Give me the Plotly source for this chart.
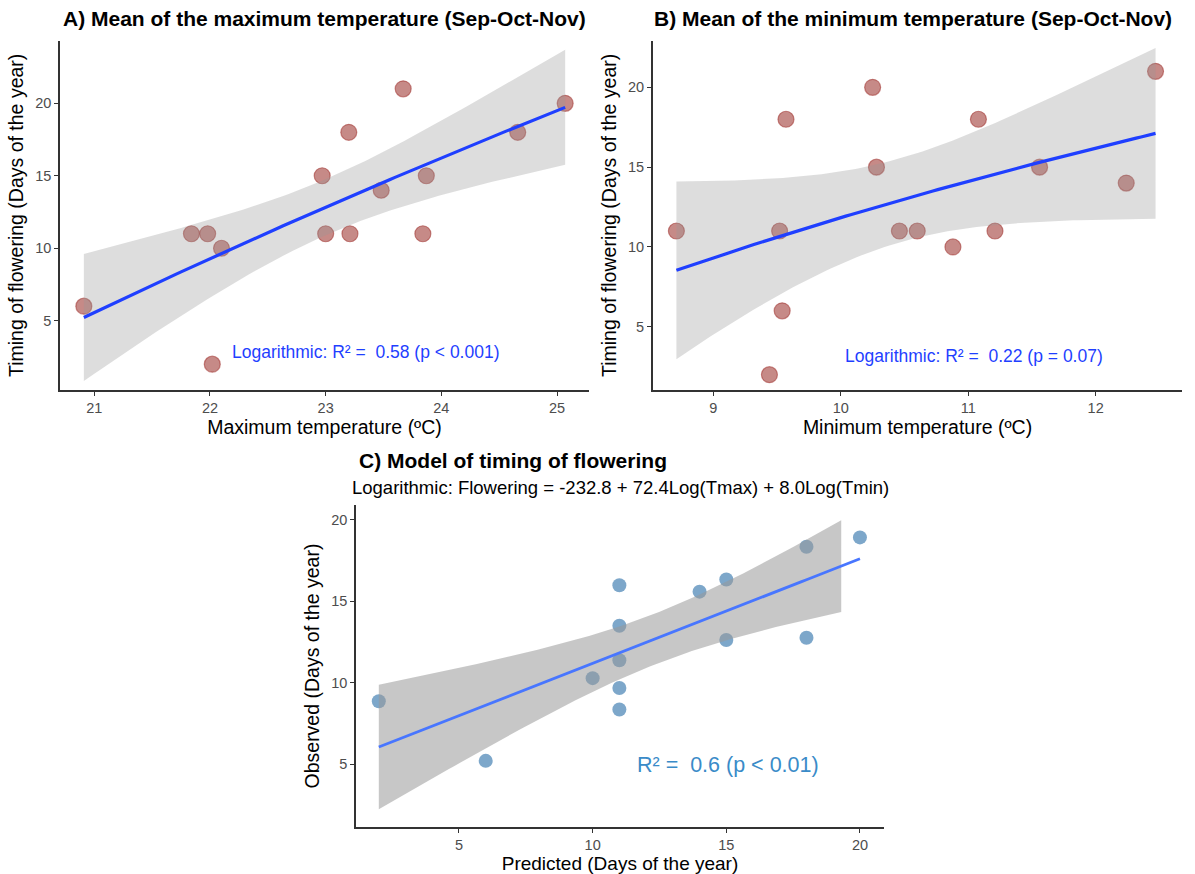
import numpy as np
import plotly.graph_objects as go

# ---------------- data ----------------
tmax = [20.91, 21.84, 21.98, 22.10, 22.02, 22.97, 23.00, 23.20, 23.21, 23.48, 23.67, 23.84, 23.87, 24.66, 25.07]
flow_a = [6, 11, 11, 10, 2, 15, 11, 18, 11, 14, 21, 11, 15, 18, 20]

tmin = [8.71, 9.44, 9.52, 9.54, 9.57, 10.25, 10.28, 10.46, 10.60, 10.88, 11.08, 11.21, 11.56, 12.24, 12.47]
flow_b = [11, 2, 11, 6, 18, 20, 15, 11, 11, 10, 18, 11, 15, 14, 21]

predicted = [2, 6, 10, 11, 11, 11, 11, 11, 14, 15, 15, 18, 18, 20]
observed = [8.86, 5.2, 10.28, 15.98, 13.5, 11.38, 9.67, 8.35, 15.59, 16.34, 12.62, 18.35, 12.76, 18.92]

t_crit = {13: 2.160, 12: 2.179}
ribbon_c_end = 19.3

FONT = "Liberation Sans, Arial, sans-serif"


def fit(x, y, log=False, xs_end=None):
    x = np.asarray(x, float)
    y = np.asarray(y, float)
    u = np.log(x) if log else x
    n = len(x)
    b, a = np.polyfit(u, y, 1)
    res = y - (a + b * u)
    s = np.sqrt(np.sum(res ** 2) / (n - 2))
    suu = np.sum((u - u.mean()) ** 2)
    xs = np.linspace(x.min(), x.max(), 100)
    us = np.log(xs) if log else xs
    ys = a + b * us
    xr = np.linspace(x.min(), xs_end if xs_end else x.max(), 100)
    ur = np.log(xr) if log else xr
    yr = a + b * ur
    se = s * np.sqrt(1 / n + (ur - u.mean()) ** 2 / suu)
    t = t_crit[n - 2]
    return xs, ys, xr, yr - t * se, yr + t * se


fig = go.Figure()

panels = [
    (tmax, flow_a, True, None, "x", "y", "rgba(160,60,55,0.6)", "rgba(160,50,45,0.55)", 16,
     "rgba(153,153,153,0.33)", "#1f3fff", 3.2),
    (tmin, flow_b, True, None, "x2", "y2", "rgba(160,60,55,0.6)", "rgba(160,50,45,0.55)", 16,
     "rgba(153,153,153,0.33)", "#1f3fff", 3.2),
    (predicted, observed, False, ribbon_c_end, "x3", "y3", "rgba(70,130,180,0.7)", "rgba(70,130,180,0)", 14,
     "rgba(153,153,153,0.55)", "#4876ff", 2.8),
]

for xv, yv, lg, xend, xa, ya, pc, plc, ps, rc, lc, lw in panels:
    xs, ys, xr, lo, hi = fit(xv, yv, lg, xend)
    fig.add_trace(go.Scatter(x=xv, y=yv, mode="markers", xaxis=xa, yaxis=ya,
                             marker=dict(size=ps, color=pc, line=dict(color=plc, width=1.2)),
                             showlegend=False, hoverinfo="skip"))
    fig.add_trace(go.Scatter(x=np.concatenate([xr, xr[::-1]]), y=np.concatenate([hi, lo[::-1]]),
                             fill="toself", fillcolor=rc, line=dict(width=0), mode="lines",
                             xaxis=xa, yaxis=ya, showlegend=False, hoverinfo="skip"))
    fig.add_trace(go.Scatter(x=xs, y=ys, mode="lines", xaxis=xa, yaxis=ya,
                             line=dict(color=lc, width=lw), showlegend=False, hoverinfo="skip"))

W, H = 1195, 874


def px(v):
    return v / W


def py(v):
    return 1 - v / H


axis_common = dict(showline=True, linecolor="#333333", linewidth=1.5, ticks="outside", ticklen=4,
                   tickcolor="#333333", tickwidth=1.2, showgrid=False, zeroline=False,
                   tickfont=dict(family=FONT, size=14.5, color="#4d4d4d"))
title_font = dict(family=FONT, size=19.5, color="#000000")

fig.update_layout(
    width=W, height=H, margin=dict(l=0, r=0, t=0, b=0),
    paper_bgcolor="white", plot_bgcolor="white",
    xaxis=dict(domain=[px(60), px(589)], range=[20.704, 25.276], tickvals=[21, 22, 23, 24, 25],
               anchor="y", title=dict(text="Maximum temperature (ºC)", font=title_font, standoff=3), **axis_common),
    yaxis=dict(domain=[py(390), py(40.7)], range=[0.217, 24.32], tickvals=[5, 10, 15, 20],
               anchor="x", title=dict(text="Timing of flowering (Days of the year)", font=title_font, standoff=6), **axis_common),
    xaxis2=dict(domain=[px(652.7), px(1182.3)], range=[8.524, 12.68], tickvals=[9, 10, 11, 12],
                anchor="y2", title=dict(text="Minimum temperature (ºC)", font=title_font, standoff=3), **axis_common),
    yaxis2=dict(domain=[py(390), py(40.7)], range=[1.04, 22.92], tickvals=[5, 10, 15, 20],
                anchor="x2", title=dict(text="Timing of flowering (Days of the year)", font=title_font, standoff=6), **axis_common),
    xaxis3=dict(domain=[px(356), px(884)], range=[1.147, 20.9], tickvals=[5, 10, 15, 20],
                anchor="y3", title=dict(text="Predicted (Days of the year)", font=dict(family=FONT, size=19, color="#000"),
                                        standoff=5), **axis_common),
    yaxis3=dict(domain=[py(827), py(505)], range=[1.14, 20.91], tickvals=[5, 10, 15, 20],
                anchor="x3", title=dict(text="Observed (Days of the year)", font=title_font, standoff=6), **axis_common),
)

ann = [
    dict(text="<b>A) Mean of the maximum temperature (Sep-Oct-Nov)</b>", x=px(61), y=py(18), xref="paper", yref="paper",
         xanchor="left", yanchor="middle", showarrow=False, font=dict(family=FONT, size=21, color="#000")),
    dict(text="<b>B) Mean of the minimum temperature (Sep-Oct-Nov)</b>", x=px(652), y=py(18), xref="paper", yref="paper",
         xanchor="left", yanchor="middle", showarrow=False, font=dict(family=FONT, size=21, color="#000")),
    dict(text="<b>C) Model of timing of flowering</b>", x=px(357), y=py(460), xref="paper", yref="paper",
         xanchor="left", yanchor="middle", showarrow=False, font=dict(family=FONT, size=21, color="#000")),
    dict(text="Logarithmic: Flowering = -232.8 + 72.4Log(Tmax) + 8.0Log(Tmin)", x=px(350), y=py(487),
         xref="paper", yref="paper", xanchor="left", yanchor="middle", showarrow=False,
         font=dict(family=FONT, size=18.5, color="#000")),
    dict(text="Logarithmic: R² =  0.58 (p < 0.001)", x=22.17, y=2.84, xref="x", yref="y", xanchor="left",
         yanchor="middle", showarrow=False, font=dict(family=FONT, size=17.5, color="#1f3fff")),
    dict(text="Logarithmic: R² =  0.22 (p = 0.07)", x=10.02, y=3.19, xref="x2", yref="y2", xanchor="left",
         yanchor="middle", showarrow=False, font=dict(family=FONT, size=17.5, color="#1f3fff")),
    dict(text="R² =  0.6 (p < 0.01)", x=11.58, y=4.92, xref="x3", yref="y3", xanchor="left",
         yanchor="middle", showarrow=False, font=dict(family=FONT, size=21.5, color="#3a8bc8")),
]
fig.update_layout(annotations=ann)

fig.write_html("out.html")
